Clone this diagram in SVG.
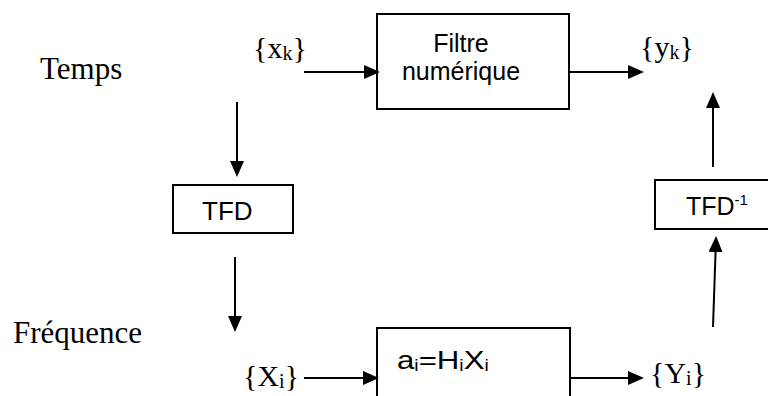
<svg xmlns="http://www.w3.org/2000/svg" width="768" height="396" viewBox="0 0 768 396">
<style>
.box{fill:#fff;stroke:#000;stroke-width:2}
.sans{font-family:"Liberation Sans",Arial,sans-serif;fill:#000}
.serif{font-family:"Liberation Serif","Times New Roman",serif;fill:#000}
.conn line{stroke:#000;stroke-width:2;marker-end:url(#ah)}
</style>
<defs>
<marker id="ah" markerUnits="userSpaceOnUse" markerWidth="16" markerHeight="14" refX="13" refY="7" orient="auto">
<path d="M0,0 L16,7 L0,14 z" fill="#000"/>
</marker>
</defs>
<g id="temps"><text class="serif" x="40" y="79" font-size="31">Temps</text></g>
<g id="frequence"><text class="serif" x="13" y="343" font-size="31">Fréquence</text></g>
<g id="xk"><text class="serif" x="253" y="58" font-size="30">{x<tspan font-size="20" dy="2">k</tspan><tspan dy="-2">}</tspan></text></g>
<g id="yk"><text class="serif" x="640" y="57" font-size="30">{y<tspan font-size="20" dy="2">k</tspan><tspan dy="-2">}</tspan></text></g>
<g id="Xi"><text class="serif" x="243" y="386" font-size="30">{X<tspan font-size="20" dy="2">i</tspan><tspan dy="-2">}</tspan></text></g>
<g id="Yi"><text class="serif" x="650" y="383" font-size="30">{Y<tspan font-size="20" dy="2">i</tspan><tspan dy="-2">}</tspan></text></g>
<g id="filtre">
<rect class="box" x="377" y="14" width="192" height="95"/>
<text class="sans" x="461" y="52" font-size="25" text-anchor="middle">Filtre</text>
<text class="sans" x="461" y="80" font-size="25" text-anchor="middle">numérique</text>
</g>
<g id="tfd">
<rect class="box" x="173" y="185" width="120" height="48"/>
<text class="sans" x="202" y="220" font-size="26">TFD</text>
</g>
<g id="tfdinv">
<rect class="box" x="655" y="180" width="130" height="49"/>
<text class="sans" x="686" y="215" font-size="25">TFD<tspan font-size="15" dy="-10">-1</tspan></text>
</g>
<g id="filtrefreq">
<rect class="box" x="377" y="328" width="193" height="80"/>
<text class="sans" transform="translate(397,369) scale(1.2,1)" x="0" y="0" font-size="26">a<tspan font-size="16" dy="2">i</tspan><tspan dy="-2">=H</tspan><tspan font-size="16" dy="2">i</tspan><tspan dy="-2">X</tspan><tspan font-size="16" dy="2">i</tspan></text>
</g>
<g id="connectors" class="conn">
<line x1="304" y1="72" x2="377" y2="72"/>
<line x1="569" y1="72" x2="641" y2="72"/>
<line x1="237" y1="102" x2="237" y2="174"/>
<line x1="235" y1="257" x2="235" y2="329"/>
<line x1="304" y1="378" x2="376" y2="378"/>
<line x1="570" y1="378" x2="641" y2="378"/>
<line x1="713" y1="327" x2="716" y2="239"/>
<line x1="713" y1="167" x2="713" y2="95"/>
</g>
</svg>
